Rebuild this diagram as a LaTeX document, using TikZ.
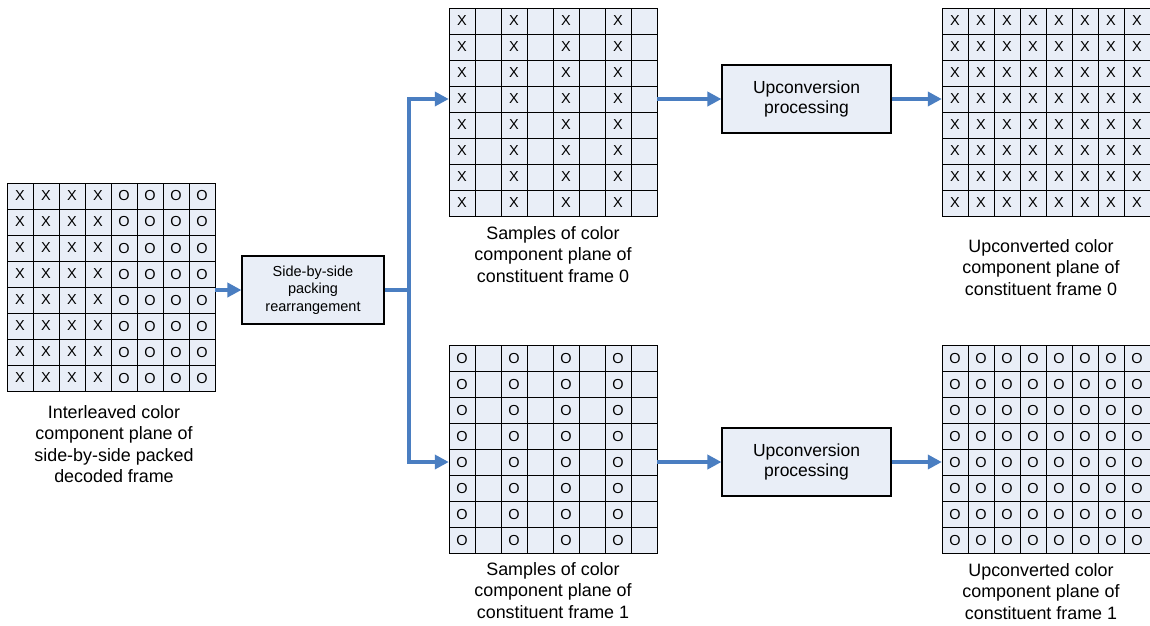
\documentclass[tikz,border=0pt]{standalone}
\usepackage{fontspec}
\setmainfont{Liberation Sans}
\usetikzlibrary{arrows.meta,calc}
\definecolor{cellfill}{RGB}{233,238,247}
\definecolor{arrblue}{RGB}{74,126,193}
\begin{document}
\begin{tikzpicture}[x=1pt,y=-1pt,
  cell/.style={draw=black,line width=0.9pt,fill=cellfill,minimum size=26pt,inner sep=0pt,font=\fontsize{14.5}{14.5}\selectfont},
  gridbox/.style={minimum size=208pt,inner sep=0pt},
  procbox/.style={draw=black,line width=1.1pt,fill=cellfill,inner sep=0pt,align=center},
  lbl/.style={align=center,inner sep=0pt,anchor=north,font=\fontsize{17.9}{21.5}\selectfont},
  arr/.style={draw=arrblue,line width=3.5pt,-{Triangle[length=14pt,width=14pt]},line join=miter},
  conn/.style={draw=arrblue,line width=3.5pt}
]
\useasboundingbox (0,0) rectangle (1150,625);
\fill[white] (0,0) rectangle (1150,625);

% grids
\node[gridbox] (gL) at (111,287) {};
\foreach \r in {0,...,7}{
  \foreach \c in {0,...,3}
    \node[cell] (gL-\r-\c) at ({7+13+26*\c},{183+13+26*\r}) {X};
  \foreach \c in {4,...,7}
    \node[cell] (gL-\r-\c) at ({7+13+26*\c},{183+13+26*\r}) {O};
}

\node[gridbox] (gT) at (553,112) {};
\foreach \r in {0,...,7}{
  \foreach \c in {0,2,4,6}
    \node[cell] (gT-\r-\c) at ({449+13+26*\c},{8+13+26*\r}) {X};
  \foreach \c in {1,3,5,7}
    \node[cell] (gT-\r-\c) at ({449+13+26*\c},{8+13+26*\r}) {};
}

\node[gridbox] (gB) at (553,449) {};
\foreach \r in {0,...,7}{
  \foreach \c in {0,2,4,6}
    \node[cell] (gB-\r-\c) at ({449+13+26*\c},{345+13+26*\r}) {O};
  \foreach \c in {1,3,5,7}
    \node[cell] (gB-\r-\c) at ({449+13+26*\c},{345+13+26*\r}) {};
}

\node[gridbox] (gTR) at (1046,112) {};
\foreach \r in {0,...,7}{
  \foreach \c in {0,...,7}
    \node[cell] (gTR-\r-\c) at ({942+13+26*\c},{8+13+26*\r}) {X};
}

\node[gridbox] (gBR) at (1046,449) {};
\foreach \r in {0,...,7}{
  \foreach \c in {0,...,7}
    \node[cell] (gBR-\r-\c) at ({942+13+26*\c},{345+13+26*\r}) {O};
}

% process boxes
\node[procbox,minimum width=142pt,minimum height=68pt,font=\fontsize{14.5}{17.5}\selectfont] (pack) at (313,290) {Side-by-side\\packing\\rearrangement};
\node[procbox,minimum width=169pt,minimum height=68pt,font=\fontsize{17.5}{20}\selectfont] (up1) at (806.5,99) {Upconversion\\processing};
\node[procbox,minimum width=169pt,minimum height=68pt,font=\fontsize{17.5}{20}\selectfont] (up2) at (806.5,462) {Upconversion\\processing};

% labels
\node[lbl] (lL) at (114,405) {Interleaved color\\component plane of\\side-by-side packed\\decoded frame};
\node[lbl] (lT) at (553,226) {Samples of color\\component plane of\\constituent frame 0};
\node[lbl] (lTR) at (1041,239) {Upconverted color\\component plane of\\constituent frame 0};
\node[lbl] (lB) at (553,562) {Samples of color\\component plane of\\constituent frame 1};
\node[lbl] (lBR) at (1041,563) {Upconverted color\\component plane of\\constituent frame 1};

% connectors
\coordinate (split) at (409,290);
\draw[arr] (gL.east |- pack.west) -- (pack.west);
\draw[conn] (pack.east) -- (split);
\draw[arr] (split) |- (gT.west |- up1.west);
\draw[arr] (split) |- (gB.west |- up2.west);
\draw[arr] (gT.east |- up1.west) -- (up1.west);
\draw[arr] (gB.east |- up2.west) -- (up2.west);
\draw[arr] (up1.east) -- (gTR.west |- up1.east);
\draw[arr] (up2.east) -- (gBR.west |- up2.east);
\end{tikzpicture}
\end{document}
